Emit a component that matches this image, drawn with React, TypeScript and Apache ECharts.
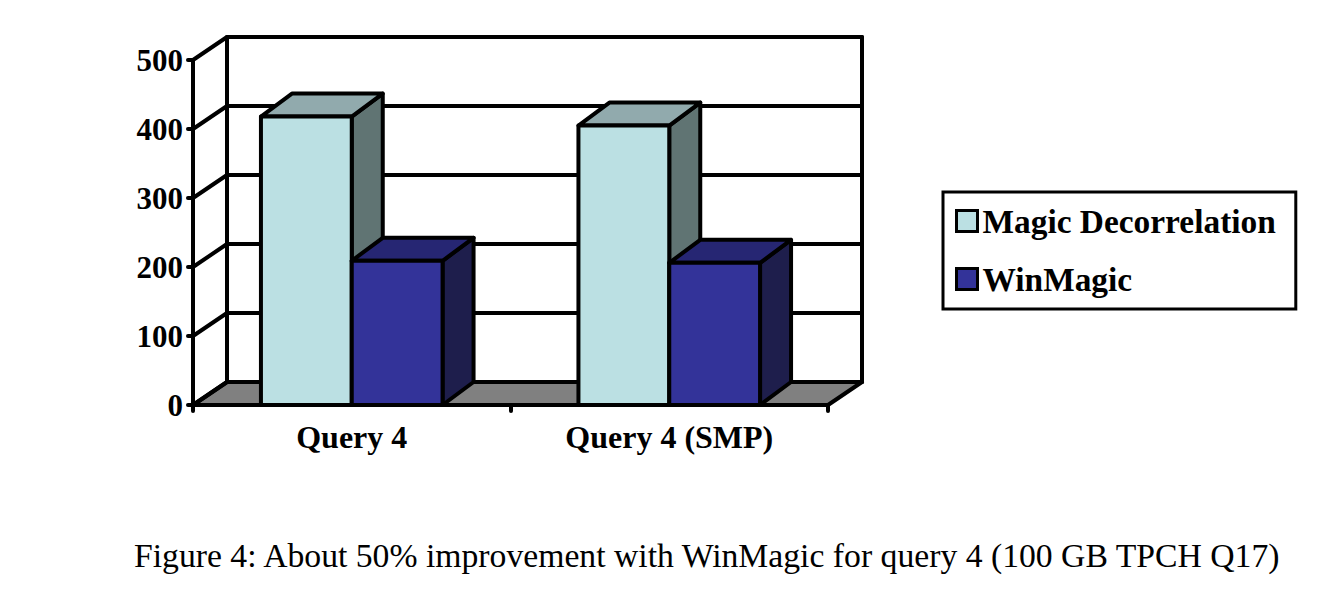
import React, { useEffect, useRef } from "react";
import * as echarts from "echarts";

const categories = ["Query 4", "Query 4 (SMP)"];
const magicDecorrelation = [418, 405];
const winMagic = [209, 206];
const yTicks = [0, 100, 200, 300, 400, 500];
const seriesNames = ["Magic Decorrelation", "WinMagic"];
const caption = "Figure 4: About 50% improvement with WinMagic for query 4 (100 GB TPCH Q17)";

const FONT = "'Liberation Serif', 'Times New Roman', serif";
const WALL_DX = 34;
const WALL_DY = -23;
const BAR_DX = 31;
const BAR_DY = -23;
const BAR_FRAC = 0.286;
const LW = 4;

const faceColors = [
  { front: "#BBE0E3", top: "#91AAAD", side: "#607473" },
  { front: "#333399", top: "#262673", side: "#1E1E4C" },
];

export default function App() {
  const ref = useRef<HTMLDivElement>(null);
  useEffect(() => {
    if (!ref.current) return;
    const chart = echarts.init(ref.current, undefined, { renderer: "svg" });

    const frameRender = (params: any, api: any) => {
      const cs = params.coordSys;
      const left = cs.x;
      const right = cs.x + cs.width;
      const y0 = api.coord([0, 0])[1];
      const yTop = api.coord([0, yTicks[yTicks.length - 1]])[1];
      const stroke = { stroke: "#000", lineWidth: LW, lineCap: "round", lineJoin: "round" };
      const children: any[] = [];
      children.push({
        type: "polygon",
        shape: {
          points: [
            [left, y0],
            [right, y0],
            [right + WALL_DX, y0 + WALL_DY],
            [left + WALL_DX, y0 + WALL_DY],
          ],
        },
        style: { fill: "#808080", ...stroke },
      });
      yTicks.forEach((v) => {
        const y = api.coord([0, v])[1];
        children.push({
          type: "polyline",
          shape: {
            points: [
              [left, y],
              [left + WALL_DX, y + WALL_DY],
              [right + WALL_DX, y + WALL_DY],
            ],
          },
          style: { fill: null, ...stroke },
        });
      });
      children.push({
        type: "line",
        shape: { x1: left + WALL_DX, y1: yTop + WALL_DY, x2: left + WALL_DX, y2: y0 + WALL_DY },
        style: stroke,
      });
      children.push({
        type: "line",
        shape: { x1: right + WALL_DX, y1: yTop + WALL_DY, x2: right + WALL_DX, y2: y0 + WALL_DY },
        style: stroke,
      });
      return { type: "group", children };
    };

    const barRender = (s: number) => (params: any, api: any) => {
      const cat = api.value(0);
      const val = api.value(1);
      const base = api.coord([cat, 0]);
      const top = api.coord([cat, val]);
      const band = api.size([1, 0])[0];
      const w = band * BAR_FRAC;
      const x0 = base[0] - w + s * w;
      const x1 = x0 + w;
      const yt = top[1];
      const yb = base[1];
      const stroke = { stroke: "#000", lineWidth: LW, lineJoin: "round" };
      const c = faceColors[s];
      return {
        type: "group",
        children: [
          {
            type: "polygon",
            shape: { points: [[x1, yt], [x1 + BAR_DX, yt + BAR_DY], [x1 + BAR_DX, yb + BAR_DY], [x1, yb]] },
            style: { fill: c.side, ...stroke },
          },
          {
            type: "polygon",
            shape: { points: [[x0, yt], [x1, yt], [x1 + BAR_DX, yt + BAR_DY], [x0 + BAR_DX, yt + BAR_DY]] },
            style: { fill: c.top, ...stroke },
          },
          {
            type: "rect",
            shape: { x: x0, y: yt, width: w, height: yb - yt },
            style: { fill: c.front, ...stroke },
          },
        ],
      };
    };

    const dataSets = [magicDecorrelation, winMagic];

    chart.setOption({
      animation: false,
      backgroundColor: "#fff",
      title: {
        text: caption,
        left: 134,
        top: 538,
        padding: 0,
        textStyle: { fontFamily: FONT, fontWeight: "normal", fontSize: 33.7, lineHeight: 34, color: "#000" },
      },
      legend: {
        data: seriesNames,
        orient: "vertical",
        left: 943,
        top: 192,
        padding: [12, 20, 13, 12],
        itemGap: 24,
        itemWidth: 21,
        itemHeight: 21,
        icon: "rect",
        borderColor: "#000",
        borderWidth: 3,
        backgroundColor: "#fff",
        itemStyle: { borderColor: "#000", borderWidth: 3 },
        textStyle: { fontFamily: FONT, fontWeight: "bold", fontSize: 33.4, lineHeight: 34, color: "#000" },
      },
      grid: { left: 193, top: 60, width: 635, height: 345 },
      xAxis: {
        type: "category",
        data: categories,
        axisLine: { show: true, lineStyle: { color: "#000", width: LW, cap: "round" } },
        axisTick: { show: true, length: 6, lineStyle: { color: "#000", width: LW, cap: "round" } },
        axisLabel: { fontFamily: FONT, fontWeight: "bold", fontSize: 32, lineHeight: 32, color: "#000", margin: 16 },
        splitLine: { show: false },
        z: 5,
      },
      yAxis: {
        type: "value",
        min: 0,
        max: 500,
        interval: 100,
        axisLine: { show: true, lineStyle: { color: "#000", width: LW, cap: "round" } },
        axisTick: { show: true, length: 5, lineStyle: { color: "#000", width: LW, cap: "round" } },
        axisLabel: { fontFamily: FONT, fontWeight: "bold", fontSize: 31, color: "#000", margin: 10 },
        splitLine: { show: false },
        z: 5,
      },
      series: [
        {
          type: "custom",
          name: "frame",
          silent: true,
          z: 1,
          renderItem: frameRender,
          data: [[0, 0]],
          encode: { x: 0, y: 1 },
        },
        ...seriesNames.map((name, s) => ({
          type: "custom",
          name,
          z: 10 + s,
          itemStyle: { color: faceColors[s].front },
          renderItem: barRender(s),
          data: categories.map((_, i) => [i, dataSets[s][i]]),
          encode: { x: 0, y: 1 },
        })),
      ],
    });
    return () => chart.dispose();
  }, []);
  return <div ref={ref} style={{ position: "absolute", left: 0, top: 0, width: 1340, height: 604 }} />;
}
